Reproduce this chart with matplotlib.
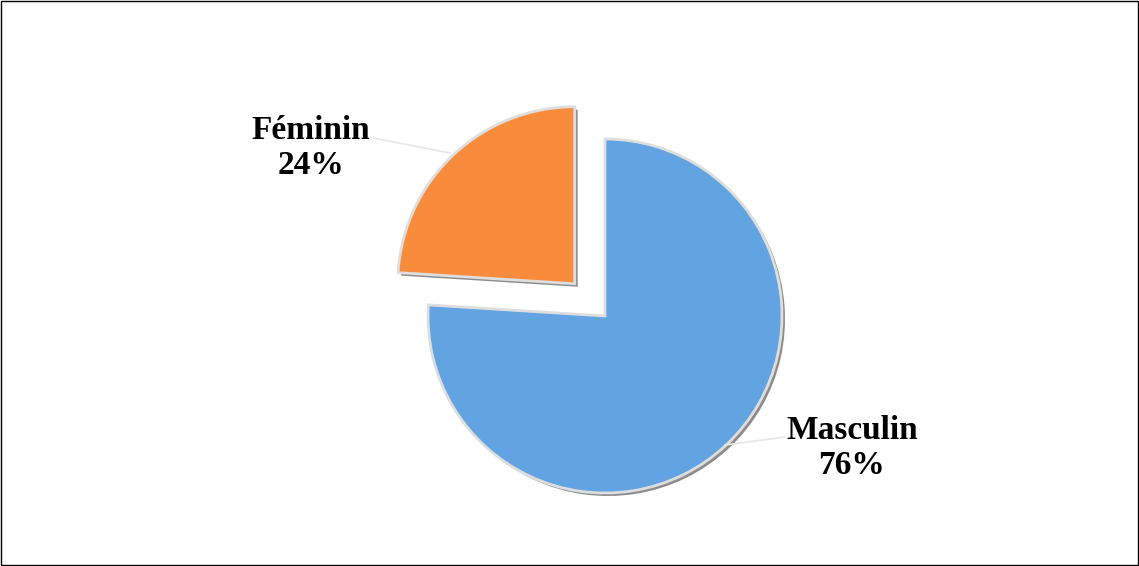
import matplotlib
matplotlib.use("Agg")
import matplotlib.pyplot as plt
from matplotlib.patches import Rectangle

# Daten
labels = ["Masculin", "Féminin"]
values = [76, 24]
colors = ["#62a4e1", "#f98b3c"]
explode_frac = [0, 0.25]   # relativ zum Radius

W, H = 1139, 566
fig = plt.figure(figsize=(W / 100, H / 100), dpi=100)
ax = fig.add_axes([0, 0, 1, 1])

cx, cy, r = 605, H - 316, 177
explode = [e * r for e in explode_frac]   # pie() erwartet Dateneinheiten

# Schatten
ax.pie(values, explode=explode, startangle=90, counterclock=False,
       colors=["#8c8c8c"] * 2, radius=r, center=(cx + 3, cy - 3),
       wedgeprops=dict(linewidth=0))
# Tortenstücke
wedges, _ = ax.pie(values, explode=explode, startangle=90, counterclock=False,
                   colors=colors, radius=r, center=(cx, cy),
                   wedgeprops=dict(edgecolor="#dedede", linewidth=2))

# pie() setzt die Achsengrenzen neu -> danach festlegen
ax.set_xlim(0, W)
ax.set_ylim(0, H)
ax.set_aspect("equal")
ax.axis("off")

# Beschriftungen
font = dict(family="Liberation Serif", weight="bold", size=24,
            ha="center", va="center", linespacing=1.2)
ax.text(852, H - 448, f"{labels[0]}\n{values[0]}%", **font)
ax.text(311, H - 148, f"{labels[1]}\n{values[1]}%", **font)

# Führungslinien
ax.plot([725, 785], [H - 445, H - 437], color="#e6e6e6", lw=1.2)
ax.plot([373, 450], [H - 138, H - 153], color="#e6e6e6", lw=1.2)

fig.patches.append(Rectangle((0.0005, 0.001), 0.999, 0.998,
                             transform=fig.transFigure, fill=False,
                             edgecolor="black", linewidth=1))
fig.savefig("out.png", dpi=100)
